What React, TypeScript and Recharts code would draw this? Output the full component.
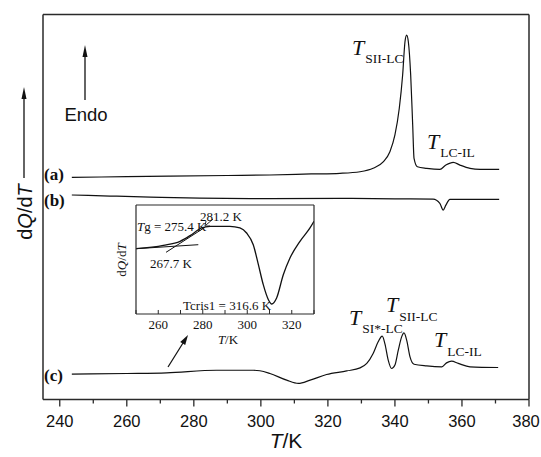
import { LineChart, Line, XAxis, YAxis, ReferenceLine } from 'recharts';

// DSC traces, T in K, dQ/dT in stacked arbitrary units
const curveA = [
  { t: 243.6, v: 12.98 }, { t: 260, v: 13.02 }, { t: 272.9, v: 13.05 }, { t: 290, v: 13.09 },
  { t: 302.7, v: 13.12 }, { t: 315, v: 13.18 }, { t: 323.6, v: 13.22 }, { t: 329.6, v: 13.31 },
  { t: 333.5, v: 13.51 }, { t: 336.5, v: 13.89 }, { t: 338.5, v: 14.48 }, { t: 340.0, v: 15.46 },
  { t: 341.3, v: 17.02 }, { t: 342.3, v: 18.96 }, { t: 343.0, v: 20.91 }, { t: 343.5, v: 21.3 },
  { t: 344.0, v: 20.91 }, { t: 344.7, v: 18.96 }, { t: 345.3, v: 16.04 }, { t: 345.7, v: 14.09 },
  { t: 346.7, v: 13.6 }, { t: 349.5, v: 13.51 }, { t: 353.4, v: 13.45 }, { t: 355.2, v: 13.7 },
  { t: 357.4, v: 13.86 }, { t: 359.4, v: 13.7 }, { t: 362.4, v: 13.51 }, { t: 365.4, v: 13.45 },
  { t: 371.1, v: 13.45 },
];

const curveB = [
  { t: 243.6, v: 11.95 }, { t: 255, v: 11.89 }, { t: 267, v: 11.83 }, { t: 281.8, v: 11.77 },
  { t: 302.7, v: 11.74 }, { t: 323.6, v: 11.75 }, { t: 340, v: 11.73 }, { t: 351.4, v: 11.71 },
  { t: 353.4, v: 11.46 }, { t: 354.4, v: 11.07 }, { t: 355.2, v: 11.36 }, { t: 356.4, v: 11.7 },
  { t: 360, v: 11.7 }, { t: 371.1, v: 11.7 },
];

const curveC = [
  { t: 243.6, v: 1.48 }, { t: 260, v: 1.52 }, { t: 271.9, v: 1.56 }, { t: 286.8, v: 1.71 },
  { t: 297.7, v: 1.71 }, { t: 299.7, v: 1.68 }, { t: 302.7, v: 1.52 }, { t: 307.7, v: 1.13 },
  { t: 311.2, v: 0.94 }, { t: 314.7, v: 1.13 }, { t: 319.6, v: 1.46 }, { t: 325.6, v: 1.67 },
  { t: 329.6, v: 1.85 }, { t: 331.6, v: 2.11 }, { t: 333.5, v: 2.69 }, { t: 335.0, v: 3.37 },
  { t: 336.2, v: 3.7 }, { t: 337.0, v: 3.27 }, { t: 338.0, v: 2.3 }, { t: 339.0, v: 1.81 },
  { t: 340.0, v: 2.01 }, { t: 341.0, v: 2.88 }, { t: 342.0, v: 3.66 }, { t: 342.7, v: 3.89 },
  { t: 343.5, v: 3.47 }, { t: 344.5, v: 2.49 }, { t: 345.7, v: 2.06 }, { t: 349.5, v: 1.96 },
  { t: 354.0, v: 1.91 }, { t: 355.4, v: 2.14 }, { t: 356.9, v: 2.24 }, { t: 358.9, v: 2.11 },
  { t: 362.4, v: 1.91 }, { t: 370.8, v: 1.87 },
];

// inset: glass transition / cold crystallisation of (c)
const insetCurve = [
  { t: 250, v: 6.35 }, { t: 262.3, v: 6.68 }, { t: 269.8, v: 7.07 }, { t: 274.3, v: 7.62 },
  { t: 279.5, v: 8.37 }, { t: 283.3, v: 8.53 }, { t: 292.2, v: 8.53 }, { t: 296.7, v: 8.37 },
  { t: 299.7, v: 7.88 }, { t: 302.7, v: 6.74 }, { t: 305, v: 4.8 }, { t: 307.2, v: 2.85 },
  { t: 309.5, v: 1.39 }, { t: 311, v: 0.97 }, { t: 313.2, v: 1.56 }, { t: 316.2, v: 3.82 },
  { t: 319.2, v: 5.45 }, { t: 323.7, v: 7.07 }, { t: 328.2, v: 8.37 }, { t: 330, v: 9.02 },
];

const insetTangents = [
  [{ t: 250, v: 6.35 }, { t: 278, v: 6.74 }],
  [{ t: 263.5, v: 6.0 }, { t: 281, v: 8.43 }],
];

const mainXTicks = [240, 250, 260, 270, 280, 290, 300, 310, 320, 330, 340, 350, 360, 370, 380];
const mainTopTicks = [240, 250, 260, 270, 280, 290, 300, 310, 320, 330, 340, 350, 360, 370];
const mainYTicks = [0.5, 1.5, 2.5, 3.5, 4.5, 5.5, 6.5, 7.5, 8.5, 9.5, 10.5, 11.5, 12.5, 13.5, 14.5, 15.5, 16.5, 17.5, 18.5, 19.5, 20.5, 21.5];
const insetXTicks = [250, 260, 270, 280, 290, 300, 310, 320, 330];
const insetYTicks = [1, 2, 3, 4, 5, 6, 7, 8, 9, 10];

const SANS = '"Liberation Sans", Arial, sans-serif';
const SERIF = '"Liberation Serif", "Times New Roman", serif';
const AXIS = '#2a2a2a';
const INK = '#111';
const THIN = 0.01; // axes need a non-zero size to be drawn

function MainXTick(props: any) {
  const { x, y, payload } = props;
  const major = payload.value % 20 === 0;
  // keep the last label inside the page
  const lx = Math.min(x, 541 - 15);
  return (
    <g>
      <line x1={x} x2={x} y1={y} y2={y + (major ? 7 : 4)} stroke={AXIS} strokeWidth={1.3} />
      {major && (
        <text x={lx} y={y + 28} textAnchor="middle" fontFamily={SANS} fontSize={16.5} fill="#111">
          {payload.value}
        </text>
      )}
    </g>
  );
}

function InsetXTick(props: any) {
  const { x, y, payload } = props;
  const labelled = payload.value % 20 === 0 && payload.value > 250 && payload.value < 330;
  return (
    <g>
      <line x1={x} x2={x} y1={y} y2={y - 4} stroke={AXIS} strokeWidth={1} />
      {labelled && (
        <text x={x} y={y + 15} textAnchor="middle" fontFamily={SERIF} fontSize={13} fill="#111">
          {payload.value}
        </text>
      )}
    </g>
  );
}

function Sub({ x, y, main, sub, gap = 7.5 }: { x: number; y: number; main: string; sub: string; gap?: number }) {
  return (
    <text x={x} y={y} fontFamily={SERIF} fill="#111">
      <tspan fontSize={22} fontStyle="italic">{main}</tspan>
      <tspan fontSize={13.5} dy={gap} dx={1}>{sub}</tspan>
    </text>
  );
}

export default function App() {
  return (
    <div style={{ position: 'absolute', left: 0, top: 0, width: 541, height: 457, background: '#fff' }}>
      <div style={{ position: 'absolute', left: 0, top: 0 }}>
        <LineChart width={541} height={457} margin={{ top: 14.5, right: 12, bottom: 57.5, left: 43 }}>
          <XAxis
            type="number"
            dataKey="t"
            domain={[235, 380]}
            allowDataOverflow
            ticks={mainXTicks}
            interval={0}
            height={THIN}
            tickSize={0}
            tickMargin={0}
            tickLine={false}
            tick={(p: any) => <MainXTick {...p} />}
            axisLine={{ stroke: AXIS, strokeWidth: 1.5 }}
          />
          <XAxis
            xAxisId="top"
            orientation="top"
            type="number"
            dataKey="t"
            domain={[235, 380]}
            allowDataOverflow
            ticks={mainTopTicks}
            interval={0}
            height={THIN}
            mirror
            tickSize={3}
            tick={false}
            tickLine={{ stroke: AXIS }}
            axisLine={{ stroke: AXIS, strokeWidth: 1.5 }}
          />
          <YAxis
            type="number"
            domain={[0, 22.5]}
            allowDataOverflow
            ticks={mainYTicks}
            interval={0}
            width={THIN}
            mirror
            tickSize={3.5}
            tick={false}
            tickLine={{ stroke: AXIS }}
            axisLine={{ stroke: AXIS, strokeWidth: 1.5 }}
          />
          <YAxis
            yAxisId="right"
            orientation="right"
            type="number"
            domain={[0, 22.5]}
            allowDataOverflow
            ticks={mainYTicks}
            interval={0}
            width={THIN}
            mirror
            tickSize={3.5}
            tick={false}
            tickLine={{ stroke: AXIS }}
            axisLine={{ stroke: AXIS, strokeWidth: 1.5 }}
          />
          <Line data={curveA} dataKey="v" type="monotone" stroke={INK} strokeWidth={1.2} dot={false} isAnimationActive={false} />
          <Line data={curveB} dataKey="v" type="monotone" stroke={INK} strokeWidth={1.2} dot={false} isAnimationActive={false} />
          <Line data={curveC} dataKey="v" type="monotone" stroke={INK} strokeWidth={1.2} dot={false} isAnimationActive={false} />
        </LineChart>
      </div>

      <div style={{ position: 'absolute', left: 100, top: 195 }}>
        <LineChart width={230} height={160} margin={{ top: 10, right: 16, bottom: 41, left: 36 }}>
          <XAxis
            type="number"
            dataKey="t"
            domain={[250, 330]}
            allowDataOverflow
            ticks={insetXTicks}
            interval={0}
            height={THIN}
            tickSize={0}
            tickMargin={0}
            tickLine={false}
            tick={(p: any) => <InsetXTick {...p} />}
            axisLine={{ stroke: AXIS, strokeWidth: 1.2 }}
          />
          <XAxis
            xAxisId="top"
            orientation="top"
            type="number"
            dataKey="t"
            domain={[250, 330]}
            allowDataOverflow
            height={THIN}
            tick={false}
            tickLine={false}
            axisLine={{ stroke: AXIS, strokeWidth: 1.2 }}
          />
          <YAxis
            type="number"
            domain={[0, 10.6]}
            allowDataOverflow
            ticks={insetYTicks}
            interval={0}
            width={THIN}
            mirror
            tickSize={3}
            tick={false}
            tickLine={{ stroke: AXIS }}
            axisLine={{ stroke: AXIS, strokeWidth: 1.2 }}
          />
          <YAxis
            yAxisId="right"
            orientation="right"
            type="number"
            domain={[0, 10.6]}
            allowDataOverflow
            ticks={insetYTicks}
            interval={0}
            width={THIN}
            mirror
            tickSize={3}
            tick={false}
            tickLine={{ stroke: AXIS }}
            axisLine={{ stroke: AXIS, strokeWidth: 1.2 }}
          />
          {insetTangents.map((seg, i) => (
            <ReferenceLine
              key={i}
              segment={[{ x: seg[0].t, y: seg[0].v }, { x: seg[1].t, y: seg[1].v }]}
              stroke={INK}
              strokeWidth={1}
              ifOverflow="visible"
            />
          ))}
          <Line data={insetCurve} dataKey="v" type="monotone" stroke={INK} strokeWidth={1.3} dot={false} isAnimationActive={false} />
        </LineChart>
      </div>

      <svg width={541} height={457} style={{ position: 'absolute', left: 0, top: 0, pointerEvents: 'none' }}>
        {/* y axis title with arrow */}
        <g transform="translate(32,212) rotate(-90)">
          <text x={0} y={0} textAnchor="middle" fontFamily={SANS} fontSize={20} fill="#111">
            d<tspan fontStyle="italic">Q</tspan>/d<tspan fontStyle="italic">T</tspan>
          </text>
        </g>
        <line x1={24} x2={24} y1={178} y2={97} stroke={INK} strokeWidth={1.3} />
        <polygon points="24,87 21.5,99 26.5,99" fill={INK} />

        {/* x axis title */}
        <text x={286} y={448} textAnchor="middle" fontFamily={SANS} fontSize={21} fill="#111">
          <tspan fontStyle="italic">T</tspan>/K
        </text>

        {/* Endo arrow */}
        <line x1={85} x2={85} y1={100} y2={55} stroke={INK} strokeWidth={1.3} />
        <polygon points="85,45 82.5,57 87.5,57" fill={INK} />
        <text x={86} y={121} textAnchor="middle" fontFamily={SANS} fontSize={18.5} fill="#111">Endo</text>

        {/* curve labels */}
        <text x={44} y={180} fontFamily={SERIF} fontWeight="bold" fontSize={17} fill="#111">(a)</text>
        <text x={44} y={206} fontFamily={SERIF} fontWeight="bold" fontSize={17} fill="#111">(b)</text>
        <text x={44} y={381} fontFamily={SERIF} fontWeight="bold" fontSize={17} fill="#111">(c)</text>

        {/* transition labels */}
        <Sub x={352} y={55} main="T" sub="SII-LC" />
        <Sub x={427} y={149} main="T" sub="LC-IL" />
        <Sub x={349} y={325} main="T" sub="SI*-LC" gap={8} />
        <Sub x={386} y={312} main="T" sub="SII-LC" gap={9} />
        <Sub x={434} y={347} main="T" sub="LC-IL" gap={9} />

        {/* inset labels */}
        <g transform="translate(126,260) rotate(-90)">
          <text x={0} y={0} textAnchor="middle" fontFamily={SERIF} fontSize={13} fill="#111">
            d<tspan fontStyle="italic">Q</tspan>/d<tspan fontStyle="italic">T</tspan>
          </text>
        </g>
        <text x={228} y={344} textAnchor="middle" fontFamily={SERIF} fontSize={13} fill="#111">
          <tspan fontStyle="italic">T</tspan>/K
        </text>
        <text x={200} y={221} fontFamily={SERIF} fontSize={13} fill="#111">281.2 K</text>
        <text x={137} y={231} fontFamily={SERIF} fontSize={13} fill="#111">
          <tspan fontStyle="italic">T</tspan>g = 275.4 K
        </text>
        <text x={150} y={268} fontFamily={SERIF} fontSize={13} fill="#111">267.7 K</text>
        <text x={183} y={310} fontFamily={SERIF} fontSize={13} fill="#111">Tcris1 = 316.6 K</text>
        <line x1={213} x2={206} y1={219} y2={225} stroke={INK} strokeWidth={0.9} />
        <polyline points="206,221 205,226 210,226" fill="none" stroke={INK} strokeWidth={0.9} />

        {/* pointer to inset */}
        <line x1={168} x2={183} y1={367} y2={343} stroke={INK} strokeWidth={1.2} />
        <polygon points="188,335 185.2,345.1 180.2,341.9" fill={INK} />
      </svg>
    </div>
  );
}
